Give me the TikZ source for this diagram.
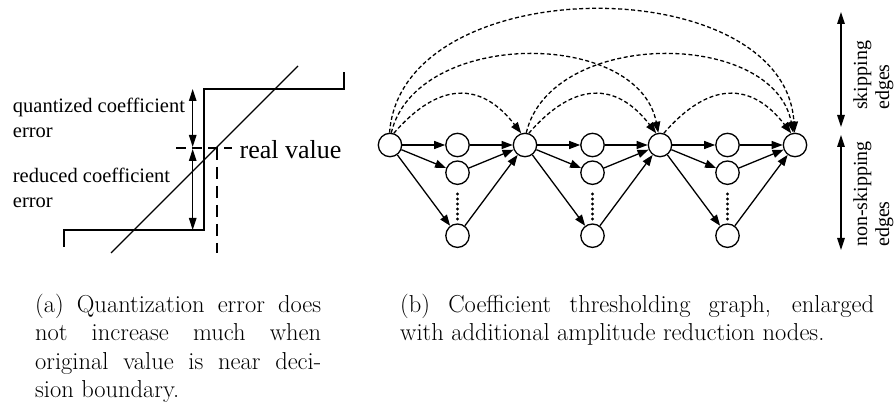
\documentclass[tikz,border=0pt]{standalone}
\usepackage{fontspec}
\usepackage{graphicx}
\newfontfamily\tmsfont{Liberation Serif}
\usetikzlibrary{arrows.meta}
\tikzset{
  thk/.style={line width=1.3pt},
  nd/.style={circle, draw, line width=1.3pt, minimum size=23.4pt, inner sep=0pt},
  sarr/.style={thk, -{Triangle[length=11pt,width=8pt]}},
  darr/.style={thk, dash pattern=on 4pt off 2.5pt, -{Triangle[length=11pt,width=8pt]}},
  dbl/.style={thk, {Triangle[length=12pt,width=7.5pt]}-{Triangle[length=12pt,width=7.5pt]}},
  lbl/.style={inner sep=0pt, anchor=base west, font=\tmsfont\fontsize{20.5}{24}\selectfont},
  rlbl/.style={inner sep=0pt, anchor=base west, rotate=90, font=\tmsfont\fontsize{20}{24}\selectfont},
  captxt/.style={inner sep=0pt, anchor=base west}
}
\begin{document}
\begin{tikzpicture}[x=1pt,y=-1pt]
\useasboundingbox (0,0) rectangle (896,403);
% ---------- panel (a) ----------
\draw[thk] (64,247) -- (64,230) -- (204,230) -- (204,89) -- (344,89) -- (344,72);
\draw[thk] (111,253) -- (298,66);
\draw[thk, dash pattern=on 10pt off 6pt] (176,148) -- (232,148);
\draw[thk, dash pattern=on 12pt off 7pt] (217,148) -- (217,253);
\coordinate (qt) at (192.7,89);
\coordinate (qm1) at (192.7,147);
\coordinate (qm2) at (192.7,149);
\coordinate (qb) at (192.7,230);
\draw[dbl] (qt) -- (qm1);
\draw[dbl] (qm2) -- (qb);
\node[lbl] (q1) at (12.7,113) {quantized coefficient};
\node[lbl] (q2) at (12.7,138) {error};
\node[lbl] (r1) at (12.7,183) {reduced coefficient};
\node[lbl] (r2) at (12.7,208) {error};
\node[inner sep=0pt, anchor=base west, font=\tmsfont\fontsize{26}{30}\selectfont] (rv) at (239.5,159) {real value};
% ---------- panel (b) ----------
\node[nd] (A0) at (390,145) {};
\node[nd] (m1) at (457.5,145) {};
\node[nd] (m2) at (457.5,172.7) {};
\node[nd] (m3) at (457.5,235.7) {};
\node[nd] (A1) at (525,145) {};
\node[nd] (n1) at (592.5,145) {};
\node[nd] (n2) at (592.5,172.7) {};
\node[nd] (n3) at (592.5,235.7) {};
\node[nd] (A2) at (660,145) {};
\node[nd] (p1) at (727.5,145) {};
\node[nd] (p2) at (727.5,172.7) {};
\node[nd] (p3) at (727.5,235.7) {};
\node[nd] (A3) at (795,145) {};
\foreach \xx in {457.5,592.5,727.5}{
  \foreach \yy in {194,199,...,219} \fill (\xx,\yy) circle (1.7pt);
}
\foreach \s/\a/\b/\c/\t in {A0/m1/m2/m3/A1, A1/n1/n2/n3/A2, A2/p1/p2/p3/A3}{
  \draw[sarr] (\s) -- (\a);
  \draw[sarr] (\s) -- (\b);
  \draw[sarr] (\s) -- (\c);
  \draw[sarr] (\a) -- (\t);
  \draw[sarr] (\b) -- (\t);
  \draw[sarr] (\c) -- (\t);
}
% skipping edges
\draw[darr] (A0.72) .. controls +(45,-52) and +(-40,-52) .. (A1.108);
\draw[darr] (A1.72) .. controls +(45,-52) and +(-40,-52) .. (A2.108);
\draw[darr] (A2.72) .. controls +(45,-52) and +(-40,-52) .. (A3.108);
\draw[darr] (A0.84) .. controls +(25,-104) and +(-20,-104) .. (A2.98);
\draw[darr] (A1.84) .. controls +(25,-104) and +(-20,-104) .. (A3.98);
\draw[darr] (A0.92) .. controls +(12,-164) and +(-10,-164) .. (A3.92);
% side labels
\coordinate (s1) at (841,12);
\coordinate (s2) at (841,127);
\coordinate (s3) at (841,135);
\coordinate (s4) at (841,250);
\draw[dbl] (s1) -- (s2);
\draw[dbl] (s3) -- (s4);
\node[rlbl] (sk1) at (867,110) {skipping};
\node[rlbl] (sk2) at (889,110) {edges};
\node[rlbl] (ns1) at (867,247) {non-skipping};
\node[rlbl] (ns2) at (889,247) {edges};
% ---------- captions ----------
\node[captxt] (capa) at (35,312) {\parbox[t]{286pt}{\fontsize{24.5}{28.5}\selectfont (a) Quantization error does\linebreak not increase much when\linebreak original value is near deci-\linebreak sion boundary.}};
\node[captxt] (capb) at (400,312) {\parbox[t]{474pt}{\fontsize{24.5}{28.5}\selectfont (b) Coefficient thresholding graph, enlarged\linebreak with additional amplitude reduction nodes.}};
\end{tikzpicture}
\end{document}
